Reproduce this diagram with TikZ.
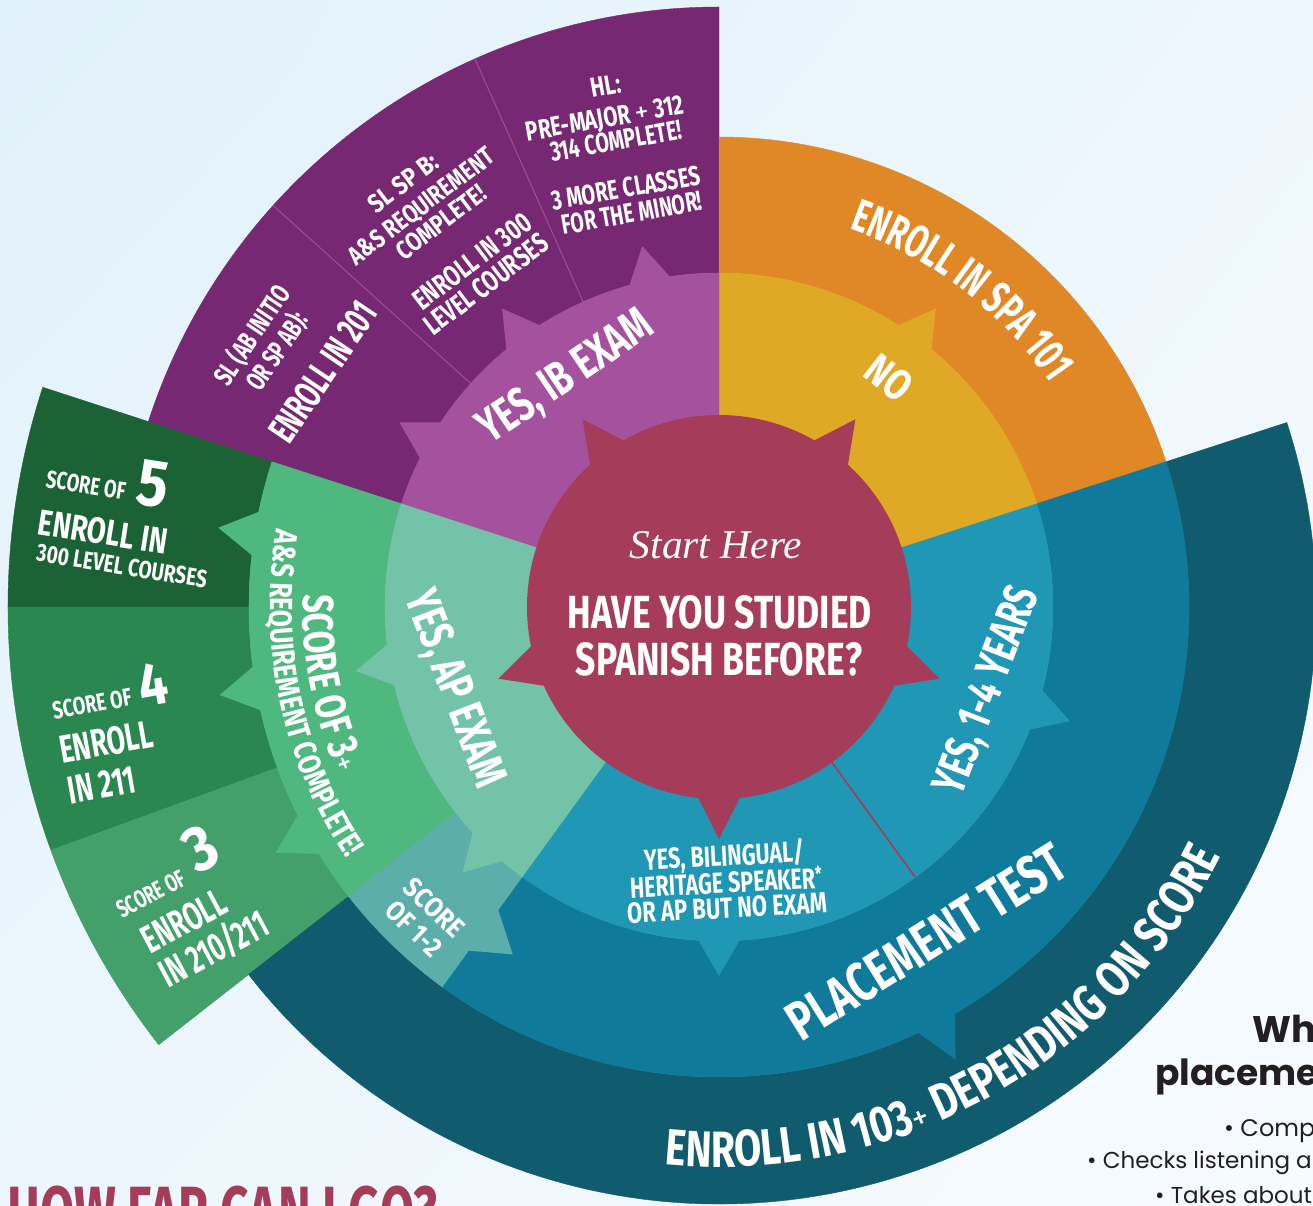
\documentclass[tikz,border=0pt]{standalone}
\usepackage{fontspec}
\usepackage{graphicx}
\usetikzlibrary{decorations.text,shadings}
\setmainfont{Liberation Serif}
\newfontfamily\bbf[FakeStretch=0.72]{Fira Sans}
\newfontfamily\bbA[FakeStretch=0.66]{Fira Sans}
\newfontfamily\bbB[FakeStretch=0.77]{Fira Sans}
\newfontfamily\bbC[FakeStretch=0.76]{Fira Sans}
\newfontfamily\bbD[FakeStretch=0.78]{Fira Sans}
\newfontfamily\plainf{Fira Sans}
\newfontfamily\pop{Poppins}
\definecolor{bgA}{HTML}{E1F1FB}
\definecolor{bgB}{HTML}{EEF7FD}
\definecolor{bgC}{HTML}{ECF6FC}
\definecolor{bgD}{HTML}{F7FBFE}
\definecolor{cred}{HTML}{A43C5A}
\definecolor{cyel}{HTML}{DFA926}
\definecolor{corange}{HTML}{E08826}
\definecolor{clpur}{HTML}{A4529D}
\definecolor{cpur}{HTML}{772873}
\definecolor{cpurl}{HTML}{9C4E97}
\definecolor{caplt}{HTML}{72C3A8}
\definecolor{cgreen}{HTML}{4FB87F}
\definecolor{cgfive}{HTML}{1B6234}
\definecolor{cgfour}{HTML}{29874F}
\definecolor{cgthree}{HTML}{43A06A}
\definecolor{cstwo}{HTML}{5CAEAA}
\definecolor{ctealA}{HTML}{2097B4}
\definecolor{ctealB}{HTML}{0F7A99}
\definecolor{ctealC}{HTML}{115B6E}
\definecolor{cdark}{HTML}{231F20}
\newcommand\fb[3]{\resizebox{#1pt}{#2pt}{\bbf\bfseries\raisebox{0pt}[0.689em][0pt]{#3}}}
\newcommand\thp{{\plainf\mdseries+}}
\newcommand\mysect[5]{\filldraw[#1,line width=0.4pt] (#2:#4) arc[start angle=#2, end angle=#3, radius=#4] -- (#3:#5) arc[start angle=#3, end angle=#2, radius=#5] -- cycle;}
\newcommand\mypie[4]{\filldraw[#1,line width=0.4pt] (0,0) -- (#2:#4) arc[start angle=#2, end angle=#3, radius=#4] -- cycle;}
\newcommand\myspike[5]{\fill[#1] ({#2-#5}:#3) -- (#2:#4) -- ({#2+#5}:#3) -- cycle;}
\tikzset{lbl/.style={inner sep=0pt, text=white}}
\begin{document}
\begin{tikzpicture}[x=1pt,y=1pt]
\useasboundingbox (-719,-598) rectangle (594,607);
\clip (-719,-598) rectangle (594,607);
\shade[upper left=bgA, upper right=bgB, lower left=bgC, lower right=bgD] (-719,-598) rectangle (594,607);
% outer ring
\mysect{cpur}{90}{162}{334}{600}
\mysect{cgfive}{162}{180}{470}{711}
\mysect{cgfour}{180}{200}{470}{711}
\mysect{cgthree}{200}{218}{470}{711}
\mysect{ctealC}{218}{378}{470}{597}
% middle ring
\mysect{corange}{18}{90}{334}{470}
\mysect{cgreen}{162}{218}{334}{470}
\mysect{cstwo}{218}{234}{334}{470}
\mysect{ctealB}{234}{378}{334}{470}
\myspike{cgreen}{171}{466}{507}{3}
\myspike{cgreen}{190}{466}{507}{3}
\myspike{cgreen}{209}{466}{507}{3}
\myspike{ctealB}{297.6}{466}{511}{2.8}
\fill[cstwo] (233.3:372) -- (239.3:404) -- (233.3:428) -- cycle;
\draw[cpurl, line width=1pt] (114:334) -- (114:600);
\draw[cpurl, line width=1pt] (138:334) -- (138:600);
% inner ring
\mypie{cyel}{18}{90}{334}
\mypie{clpur}{90}{162}{334}
\mypie{caplt}{162}{234}{334}
\mypie{ctealA}{234}{378}{334}
\myspike{cyel}{54}{330}{369}{4}
\myspike{clpur}{102}{330}{369}{4}
\myspike{clpur}{126}{330}{369}{4}
\myspike{clpur}{150}{330}{369}{4}
\myspike{caplt}{190}{330}{369}{4}
\myspike{caplt}{226}{330}{369}{4}
\myspike{ctealA}{270}{330}{369}{4}
\myspike{ctealA}{342}{330}{369}{4}
\draw[cred, line width=1.6pt] (306:190) -- (306:334);
% centre
\fill[cred] (0,0) circle[radius=192];
\myspike{cred}{54}{188}{232}{7}
\myspike{cred}{126}{188}{232}{7}
\myspike{cred}{198}{188}{232}{7}
\myspike{cred}{270}{188}{232}{7}
\myspike{cred}{342}{188}{232}{7}
% curved texts
\path[decorate, decoration={text along path, text align=center, text={|\bbA\bfseries\fontsize{46}{46}\selectfont\color{white}|ENROLL IN SPA 101}}] (92:400) arc[start angle=92, end angle=13, radius=400];
\path[decorate, decoration={text along path, text align=center, text={|\bbB\bfseries\fontsize{51}{51}\selectfont\color{white}|ENROLL IN 103|\plainf\mdseries\fontsize{34}{34}\selectfont\color{white}|+|\bbB\bfseries\fontsize{51}{51}\selectfont\color{white}| DEPENDING ON SCORE}}] (250:560) arc[start angle=250, end angle=348, radius=560];
\path[decorate, decoration={text along path, text align=center, text={|\bbC\bfseries\fontsize{43.5}{43.5}\selectfont\color{white}|SCORE OF 3|\plainf\mdseries\fontsize{30}{30}\selectfont\color{white}|+}}] (161:416) arc[start angle=161, end angle=221, radius=416];
\path[decorate, decoration={text along path, text align=center, text={|\bbD\bfseries\fontsize{32}{32}\selectfont\color{white}|A{\&}S REQUIREMENT COMPLETE!}}] (160:449) arc[start angle=160, end angle=224, radius=449];
% straight texts, image coordinates
\begin{scope}[shift={(-719,607)}, yscale=-1]
\node[lbl] (tStart) at (716,545) {\resizebox{172pt}{27pt}{\itshape\raisebox{0pt}[0.662em][0pt]{Start Here}}};
\node[lbl] (tQa) at (720,612.5) {\fb{304}{32}{HAVE YOU STUDIED}};
\node[lbl] (tQb) at (719,659.5) {\fb{286}{32}{SPANISH BEFORE?}};
\node[lbl, rotate=-38] (tNo) at (889,378) {\fb{46}{30}{NO}};
\node[lbl, rotate=34] (tIB) at (564,375) {\fb{200}{33}{YES, IB EXAM}};
\node[lbl, rotate=-69] (tAP) at (457,688) {\fb{206}{33}{YES, AP EXAM}};
\node[lbl, rotate=69] (tYr) at (985,690) {\fb{218}{33}{YES, 1-4 YEARS}};
\node[lbl, rotate=3] (tBia) at (724,856) {\fb{160}{20}{YES, BILINGUAL/}};
\node[lbl, rotate=3] (tBib) at (726,883) {\fb{192}{20}{HERITAGE SPEAKER\raisebox{0.25em}{\scriptsize *}}};
\node[lbl, rotate=3] (tBic) at (727,908) {\fb{200}{20}{OR AP BUT NO EXAM}};
\node[lbl, rotate=32] (tPT) at (926,942) {\fb{318}{38}{PLACEMENT TEST}};
% score 1-2
\node[lbl, rotate=-44] (tSa) at (434,908) {\fb{72}{19}{SCORE}};
\node[lbl, rotate=-44] (tSb) at (414,929) {\fb{66}{19}{OF 1-2}};
% score 5
\node[lbl, rotate=-9] (tFa) at (86,485) {\fb{80}{17}{SCORE OF}};
\node[lbl, rotate=-9] (tFb) at (153,483) {\fb{31}{46}{5}};
\node[lbl, rotate=-9] (tFc) at (103,532) {\fb{130}{25}{ENROLL IN}};
\node[lbl, rotate=-9] (tFd) at (122,566) {\fb{172}{17}{300 LEVEL COURSES}};
% score 4
\node[lbl, rotate=10] (tGa) at (92,704) {\fb{80}{17}{SCORE OF}};
\node[lbl, rotate=10] (tGb) at (153,684) {\fb{29}{42}{4}};
\node[lbl, rotate=10] (tGc) at (106,742) {\fb{94}{27}{ENROLL}};
\node[lbl, rotate=10] (tGd) at (102,785) {\fb{68}{27}{IN 211}};
% score 3
\node[lbl, rotate=28] (tHa) at (151,894) {\fb{74}{17}{SCORE OF}};
\node[lbl, rotate=28] (tHb) at (200,848) {\fb{30}{44}{3}};
\node[lbl, rotate=28] (tHc) at (184,921) {\fb{90}{27}{ENROLL}};
\node[lbl, rotate=28] (tHd) at (214,949) {\fb{117}{27}{IN 210/211}};
% IB blocks
\node[lbl, rotate=10] (tLa) at (606,86) {\fb{30}{19}{HL:}};
\node[lbl, rotate=10] (tLb) at (605,118) {\fb{160}{19}{PRE-MAJOR \thp{} 312}};
\node[lbl, rotate=10] (tLc) at (616,141) {\fb{133}{19}{314 COMPLETE!}};
\node[lbl, rotate=10] (tLd) at (626,188) {\fb{150}{19}{3 MORE CLASSES}};
\node[lbl, rotate=10] (tLe) at (632,213) {\fb{142}{19}{FOR THE MINOR!}};
\node[lbl, rotate=37] (tMa) at (403,183) {\fb{80}{18}{SL SP B:}};
\node[lbl, rotate=37] (tMb) at (421,206) {\fb{176}{18}{A\&S REQUIREMENT}};
\node[lbl, rotate=37] (tMc) at (441,222) {\fb{106}{18}{COMPLETE!}};
\node[lbl, rotate=37] (tMd) at (472,261) {\fb{140}{20}{ENROLL IN 300}};
\node[lbl, rotate=37] (tMe) at (486,284) {\fb{147}{20}{LEVEL COURSES}};
\node[lbl, rotate=56] (tNa) at (252,335) {\fb{113}{19}{SL (AB INITIO}};
\node[lbl, rotate=56] (tNb) at (277,351) {\fb{88}{19}{OR SP AB):}};
\node[lbl, rotate=56] (tNc) at (323,372) {\fb{160}{27}{ENROLL IN 201}};
% corner texts
\node[inner sep=0pt, text=cred, anchor=north west] (tHow) at (7,1187) {\fb{430}{50}{HOW FAR CAN I GO?}};
\node[inner sep=0pt, text=cdark, anchor=base west, font=\pop\bfseries\fontsize{37}{37}\selectfont] (tWh) at (1252,1042) {What};
\node[inner sep=0pt, text=cdark, anchor=base west, font=\pop\bfseries\fontsize{36}{36}\selectfont] (tPl) at (1155,1085) {placement};
\node[inner sep=0pt, text=cdark, anchor=base west, font=\pop\fontsize{24}{24}\selectfont] (tBa) at (1224,1136) {• Comp};
\node[inner sep=0pt, text=cdark, anchor=base west, font=\pop\fontsize{23}{23}\selectfont] (tBb) at (1087,1168) {• Checks listening a};
\node[inner sep=0pt, text=cdark, anchor=base west, font=\pop\fontsize{23}{23}\selectfont] (tBc) at (1155,1203) {• Takes about};
\end{scope}
\end{tikzpicture}
\end{document}
